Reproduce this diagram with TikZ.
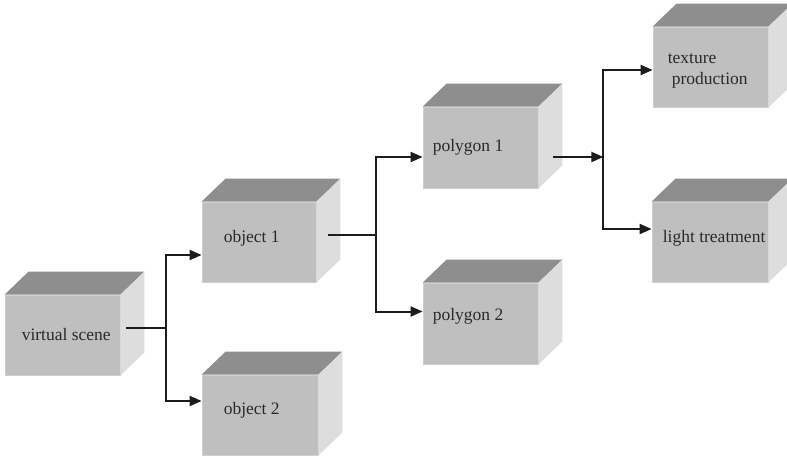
\documentclass[tikz,border=0pt]{standalone}
\usepackage{fontspec}
\setmainfont{Liberation Serif}
\usetikzlibrary{arrows.meta,calc}
\definecolor{frontc}{HTML}{BFBFBF}
\definecolor{topc}{HTML}{8E8E8E}
\definecolor{sidec}{HTML}{DDDDDD}
\definecolor{edgec}{HTML}{CFCFCF}
\definecolor{linec}{HTML}{1C1C1C}
\definecolor{textc}{HTML}{2A2A2A}
\tikzset{
  face/.style={fill=frontc, draw=edgec, line width=0.8pt, inner sep=0pt},
  lbl/.style={anchor=west, inner sep=0pt, text=textc, font=\fontsize{17.5}{21}\selectfont, align=left},
  conn/.style={draw=linec, line width=2pt},
  arr/.style={conn, -{Triangle[length=12pt,width=10pt]}},
}
\newcommand{\cubefaces}[1]{%
  \fill[topc] (#1.north west) -- ++(24,23) -- ($(#1.north east)+(24,23)$) -- (#1.north east) -- cycle;
  \fill[sidec] (#1.north east) -- ++(24,23) -- ($(#1.south east)+(24,23)$) -- (#1.south east) -- cycle;
}
\begin{document}
\begin{tikzpicture}[x=1pt,y=1pt]
\useasboundingbox (0,0) rectangle (787,461);
\fill[white] (0,0) rectangle (787,461);
% boxes
\node[face, minimum width=115, minimum height=80] (vs) at (62.5,126) {};
\node[face, minimum width=114, minimum height=80] (o1) at (259,219) {};
\node[face, minimum width=116, minimum height=80] (o2) at (260,46) {};
\node[face, minimum width=115, minimum height=81] (p1) at (480.5,313.5) {};
\node[face, minimum width=115, minimum height=81] (p2) at (480.5,137.5) {};
\node[face, minimum width=115, minimum height=80] (tp) at (710.5,394) {};
\node[face, minimum width=116, minimum height=80] (lt) at (710,219) {};
\cubefaces{vs}\cubefaces{o1}\cubefaces{o2}\cubefaces{p1}\cubefaces{p2}\cubefaces{tp}\cubefaces{lt}
% labels
\node[lbl] (vst) at ([xshift=17]vs.west) {virtual scene};
\node[lbl] (o1t) at ([xshift=22,yshift=4]o1.west) {object 1};
\node[lbl] (o2t) at ([xshift=22,yshift=5]o2.west) {object 2};
\node[lbl] (p1t) at ([xshift=10,yshift=0.5]p1.west) {polygon 1};
\node[lbl] (p2t) at ([xshift=10,yshift=7.5]p2.west) {polygon 2};
\node[lbl] (ltt) at ([xshift=11,yshift=4]lt.west) {light treatment};
\node[lbl] (tpt) at ([xshift=15,yshift=-3.5]tp.west) {texture\\\hspace*{4pt}production};
% connectors
\draw[conn] ($(vs.east)+(6,7)$) -- ++(40,0) coordinate (j1);
\draw[arr] (j1) |- ([yshift=-13]o1.west);
\draw[arr] (j1) |- ([yshift=14]o2.west);
\draw[conn] ($(o1.east)+(12,7)$) -- ++(48,0) coordinate (j2);
\draw[arr] (j2) |- ([yshift=-9.5]p1.west);
\draw[arr] (j2) |- ([yshift=12]p2.west);
\coordinate (j3) at ($(p1.east)+(65,-9.5)$);
\draw[arr] ($(p1.east)+(15,-9.5)$) -- (j3);
\draw[arr] (j3) |- ([yshift=-3]tp.west);
\draw[arr] (j3) |- ([yshift=13]lt.west);
\end{tikzpicture}
\end{document}
